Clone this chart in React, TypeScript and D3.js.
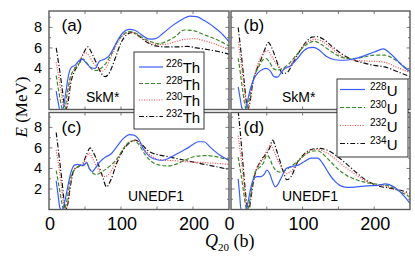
import * as d3 from "d3";
import { useEffect, useRef } from "react";

const W = 415;
const H = 262;

const thIsotopes = ["226", "228", "230", "232"];
const uIsotopes = ["228", "230", "232", "234"];
const xTickValues = [0, 50, 100, 150, 200, 250];
const xTickLabels = [0, 100, 200];
const yTickLabels = [2, 4, 6, 8];

// SkM*, Th  [Q20, E]
const th226Skm = [[10,1.8],[13,0.6],[15,0],[19,0],[23,1.5],[27,3.3],[31,4.1],[36,4.3],[41,4.7],[46,4.9],[52,4.5],[58,4.1],[64,4.0],[70,4.7],[77,4.9],[83,5.2],[89,5.9],[95,6.7],[103,7.5],[111,7.8],[120,7.7],[130,7.2],[140,6.85],[148,6.9],[158,7.4],[170,8.1],[183,8.7],[196,9.1],[205,9.05],[215,8.7],[228,8.1],[240,7.4],[250,6.6]];
const th228Skm = [[10,3.3],[13,2.0],[16,0.8],[19,0],[22,0],[25,1.5],[29,3.0],[35,3.9],[41,4.4],[47,4.9],[53,4.5],[60,3.9],[66,3.8],[72,4.0],[80,4.6],[88,5.6],[95,6.6],[103,7.3],[112,7.6],[120,7.45],[130,7.0],[142,6.6],[152,6.4],[162,6.6],[175,7.1],[188,7.75],[200,7.7],[215,7.3],[230,6.9],[250,6.2]];
const th230Skm = [[10,4.6],[14,3.0],[18,1.2],[21,0],[24,0],[27,1.8],[31,3.3],[37,4.2],[44,5.0],[50,5.55],[56,5.2],[62,4.5],[68,4.0],[74,3.75],[80,4.2],[88,5.4],[96,6.6],[104,7.3],[113,7.55],[122,7.3],[135,6.7],[148,6.35],[160,6.35],[175,6.6],[190,6.85],[203,6.9],[215,6.7],[230,6.4],[250,5.8]];
const th232Skm = [[10,6.0],[14,4.2],[18,2.2],[21,0.6],[23,0],[26,0.5],[30,2.5],[36,3.8],[42,4.5],[48,5.5],[54,6.1],[60,5.4],[66,4.5],[72,3.6],[78,3.2],[84,3.6],[92,5.0],[100,6.5],[108,7.3],[115,7.5],[124,7.2],[135,6.6],[148,6.2],[162,6.1],[178,6.1],[192,6.15],[205,6.0],[220,5.85],[235,5.65],[250,5.4]];

// SkM*, U
const u228Skm = [[10,2.2],[13,1.0],[15,0.2],[17,0],[20,0],[23,0.8],[27,2.0],[32,3.0],[38,3.6],[44,3.9],[49,4.0],[55,3.75],[60,3.2],[65,3.15],[70,3.6],[75,4.0],[83,4.25],[92,4.9],[100,5.6],[108,6.0],[115,6.05],[123,5.8],[133,5.2],[145,4.85],[158,4.8],[170,4.9],[185,5.2],[200,5.6],[213,5.9],[220,5.6],[232,4.8],[242,4.1],[250,3.7]];
const u230Skm = [[10,5.0],[13,3.6],[16,2.0],[19,0.6],[21,0],[24,0.5],[28,2.0],[33,3.3],[39,4.2],[45,4.85],[49,4.95],[54,4.6],[59,4.0],[65,3.85],[72,4.0],[80,4.4],[90,5.2],[100,6.0],[108,6.45],[116,6.65],[125,6.4],[135,5.9],[148,5.3],[160,5.0],[170,4.95],[185,5.1],[200,5.3],[215,5.3],[230,4.8],[250,3.7]];
const u232Skm = [[10,6.6],[14,4.6],[18,2.3],[21,0.5],[23,0],[26,0.6],[30,2.4],[35,3.9],[41,5.0],[47,5.6],[51,5.75],[56,5.3],[62,4.6],[68,4.1],[74,3.95],[82,4.3],[92,5.3],[102,6.2],[110,6.7],[118,6.85],[128,6.6],[140,6.0],[152,5.3],[165,4.9],[180,4.75],[200,4.7],[215,4.6],[232,4.1],[250,3.6]];
const u234Skm = [[10,8.0],[14,5.6],[18,3.0],[21,1.0],[23,0],[26,0.5],[30,2.4],[36,3.9],[42,4.9],[48,6.0],[52,6.55],[57,6.0],[62,5.1],[67,4.1],[73,3.5],[79,3.65],[87,4.6],[96,5.7],[105,6.6],[113,7.05],[120,7.1],[130,6.8],[142,6.1],[155,5.4],[168,4.9],[182,4.6],[200,4.3],[215,4.15],[232,3.7],[250,3.2]];

// UNEDF1, Th
const th226Un = [[10,2.8],[13,1.2],[15,0.2],[17,0],[19,0],[22,0.8],[26,2.2],[30,3.5],[35,4.3],[40,4.4],[45,4.3],[49,4.35],[52,4.6],[56,4.0],[60,3.7],[64,4.0],[70,4.6],[78,5.1],[86,5.4],[94,6.1],[103,6.9],[112,7.3],[118,7.25],[124,6.9],[132,5.8],[140,5.15],[150,4.85],[158,4.8],[168,5.05],[180,5.5],[195,6.1],[208,6.6],[215,6.6],[225,6.0],[237,5.3],[250,4.8]];
const th228Un = [[10,3.8],[14,2.2],[18,0.6],[20,0],[23,0.3],[27,1.8],[31,3.3],[36,3.9],[42,4.2],[48,4.3],[52,4.6],[56,4.0],[60,3.6],[66,3.4],[74,3.7],[84,4.2],[94,4.9],[104,6.0],[112,6.6],[118,6.7],[125,6.3],[133,5.4],[142,4.7],[152,4.35],[165,4.25],[178,4.45],[192,4.9],[205,5.2],[220,5.25],[235,5.1],[250,4.8]];
const th230Un = [[10,5.8],[14,4.0],[18,1.8],[21,0.3],[23,0],[26,0.6],[30,2.5],[35,3.9],[41,4.2],[47,4.4],[52,5.1],[56,5.5],[61,4.9],[67,4.1],[73,3.5],[78,3.2],[84,3.5],[92,4.5],[102,5.8],[112,6.6],[119,6.75],[127,6.3],[137,5.5],[148,5.0],[160,4.8],[175,4.75],[190,4.65],[210,4.6],[230,4.5],[250,4.4]];
const th232Un = [[10,7.5],[14,5.2],[18,2.8],[21,0.8],[23,0],[26,0.5],[30,2.4],[35,3.9],[41,4.2],[47,4.5],[53,5.5],[57,6.0],[62,5.5],[68,4.5],[74,3.3],[80,2.2],[86,2.9],[94,4.5],[104,5.9],[113,6.55],[120,6.75],[128,6.4],[138,5.7],[150,5.35],[162,5.2],[178,4.95],[195,4.7],[212,4.45],[230,4.2],[250,3.9]];

// UNEDF1, U
const u228Un = [[10,3.0],[12,1.5],[14,0],[20,0],[23,0.5],[27,1.9],[31,2.9],[36,3.2],[42,3.2],[47,3.5],[50,3.85],[54,3.5],[58,2.7],[62,2.2],[66,2.5],[71,3.2],[77,4.0],[86,4.2],[95,4.35],[103,4.7],[112,5.0],[121,5.0],[128,4.5],[135,3.7],[143,2.9],[152,2.35],[162,2.15],[175,2.2],[190,2.3],[205,2.35],[216,2.5],[225,2.3],[235,1.8],[243,1.2],[250,0.6]];
const u230Un = [[10,5.1],[14,3.4],[18,1.5],[21,0.2],[23,0],[26,0.8],[30,2.6],[35,3.8],[40,4.1],[45,4.5],[50,5.3],[54,5.0],[58,4.3],[63,3.8],[68,3.65],[75,3.8],[84,4.2],[95,4.8],[105,5.4],[114,5.7],[122,5.7],[130,5.3],[140,4.6],[150,3.9],[162,3.3],[175,2.9],[190,2.6],[205,2.45],[220,2.3],[235,1.8],[250,1.2]];
const u232Un = [[10,7.2],[14,5.0],[18,2.5],[21,0.6],[23,0],[26,0.6],[30,2.5],[35,3.9],[41,4.5],[47,5.3],[52,6.0],[55,6.3],[60,5.7],[66,4.7],[72,3.9],[78,3.5],[85,3.8],[94,4.7],[104,5.4],[114,5.8],[122,5.85],[132,5.6],[145,4.95],[158,4.2],[170,3.6],[185,2.9],[200,2.5],[215,2.3],[232,1.9],[250,1.4]];
const u234Un = [[10,9.6],[13,7.5],[17,4.2],[20,1.8],[23,0.2],[25,0],[28,1.2],[32,3.0],[37,4.1],[43,4.9],[49,5.4],[54,6.0],[58,6.75],[63,5.9],[68,4.8],[73,3.7],[78,2.9],[84,3.2],[92,4.5],[102,5.4],[112,5.85],[122,5.95],[134,5.8],[148,5.2],[162,4.4],[175,3.6],[190,2.8],[205,2.3],[220,2.1],[235,1.9],[250,1.6]];

const colors = ["#3a5cff", "#3d8a2c", "#ff4545", "#111111"];
const dashes = [null, "4,2", "1,1.5", "5,2,1.2,2"];

const panels = [
  { tag: "(a)", model: "SkM*", series: [th226Skm, th228Skm, th230Skm, th232Skm], x0: 49, x1: 229, y0: 11, y1: 109.5, ymax: 9.6, modelX: 86, modelY: 102 },
  { tag: "(b)", model: "SkM*", series: [u228Skm, u230Skm, u232Skm, u234Skm], x0: 231, x1: 410, y0: 11, y1: 109.5, ymax: 9.6, modelX: 282, modelY: 102 },
  { tag: "(c)", model: "UNEDF1", series: [th226Un, th228Un, th230Un, th232Un], x0: 49, x1: 229, y0: 112.5, y1: 209.5, ymax: 9.45, modelX: 128, modelY: 201 },
  { tag: "(d)", model: "UNEDF1", series: [u228Un, u230Un, u232Un, u234Un], x0: 231, x1: 410, y0: 112.5, y1: 209.5, ymax: 9.45, modelX: 282, modelY: 201 },
];

export default function App() {
  const svgRef = useRef<SVGSVGElement>(null);

  useEffect(() => {
    const svg = d3.select(svgRef.current);
    svg.selectAll("*").remove();
    const sans = "Liberation Sans, Arial, sans-serif";
    const serif = "Liberation Serif, Times New Roman, serif";
    const frameColor = "#5a5a5a";

    panels.forEach((p, pi) => {
      const x = d3.scaleLinear().domain([0, 250]).range([p.x0, p.x1]);
      const y = d3.scaleLinear().domain([0, p.ymax]).range([p.y1, p.y0]);
      const g = svg.append("g");

      const clipId = `clip-${pi}`;
      svg.append("clipPath").attr("id", clipId)
        .append("rect")
        .attr("x", p.x0).attr("y", p.y0)
        .attr("width", p.x1 - p.x0).attr("height", p.y1 - p.y0);

      const line = d3.line<number[]>()
        .x(d => x(d[0]))
        .y(d => y(d[1]))
        .curve(d3.curveMonotoneX);

      const lines = g.append("g").attr("clip-path", `url(#${clipId})`);
      // draw in reverse so the solid line sits on top
      [3, 2, 1, 0].forEach(i => {
        lines.append("path")
          .attr("d", line(p.series[i]))
          .attr("fill", "none")
          .attr("stroke", colors[i])
          .attr("stroke-width", 1.2)
          .attr("stroke-dasharray", dashes[i]);
      });

      // ticks (inward, all four sides)
      xTickValues.forEach(v => {
        if (v === 0 || v === 250) return;
        g.append("line").attr("x1", x(v)).attr("x2", x(v)).attr("y1", p.y1).attr("y2", p.y1 - 3)
          .attr("stroke", frameColor).attr("stroke-width", 0.8);
        g.append("line").attr("x1", x(v)).attr("x2", x(v)).attr("y1", p.y0).attr("y2", p.y0 + 3)
          .attr("stroke", frameColor).attr("stroke-width", 0.8);
      });
      d3.range(1, Math.floor(p.ymax) + 1).forEach(v => {
        const len = v % 2 === 0 ? 3.5 : 2;
        g.append("line").attr("x1", p.x0).attr("x2", p.x0 + len).attr("y1", y(v)).attr("y2", y(v))
          .attr("stroke", frameColor).attr("stroke-width", 0.8);
        g.append("line").attr("x1", p.x1).attr("x2", p.x1 - len).attr("y1", y(v)).attr("y2", y(v))
          .attr("stroke", frameColor).attr("stroke-width", 0.8);
      });

      g.append("rect")
        .attr("x", p.x0).attr("y", p.y0)
        .attr("width", p.x1 - p.x0).attr("height", p.y1 - p.y0)
        .attr("fill", "none").attr("stroke", frameColor).attr("stroke-width", 1.4);

      if (pi % 2 === 0) {
        yTickLabels.forEach(v => {
          g.append("text").attr("x", 42).attr("y", y(v) + 5)
            .attr("text-anchor", "end")
            .style("font-family", sans).style("font-size", "14.5px")
            .text(v);
        });
      }
      if (pi >= 2) {
        xTickLabels.forEach(v => {
          g.append("text").attr("x", x(v) + (pi === 3 && v === 0 ? -1.5 : 1)).attr("y", 230)
            .attr("text-anchor", "middle")
            .style("font-family", sans).style("font-size", "18px")
            .text(v);
        });
      }

      g.append("text").attr("x", p.x0 + 12.5).attr("y", p.y0 + 20)
        .style("font-family", sans).style("font-size", "17px")
        .text(p.tag);
      g.append("text").attr("x", p.modelX).attr("y", p.modelY)
        .style("font-family", sans).style("font-size", "14px")
        .text(p.model);
    });

    // legends
    const drawLegend = (names: string[], el: string, bx: number, by: number, bw: number, bh: number,
                        rows: number[], lx0: number, lx1: number, tx: number) => {
      const lg = svg.append("g");
      lg.append("rect").attr("x", bx).attr("y", by).attr("width", bw).attr("height", bh)
        .attr("fill", "white").attr("stroke", "#222").attr("stroke-width", 0.9);
      names.forEach((n, i) => {
        lg.append("line").attr("x1", lx0).attr("x2", lx1).attr("y1", rows[i]).attr("y2", rows[i])
          .attr("stroke", colors[i]).attr("stroke-width", 1.2).attr("stroke-dasharray", dashes[i]);
        const t = lg.append("text").attr("x", tx).attr("y", rows[i] + 6)
          .style("font-family", sans);
        t.append("tspan").attr("dy", -6).style("font-size", "10px").text(n);
        t.append("tspan").attr("dy", 6).style("font-size", "15px").text(el);
      });
    };
    drawLegend(thIsotopes, "Th", 134, 52, 70, 77, [67, 83.5, 100, 116.5], 139, 163, 166);
    drawLegend(uIsotopes, "U", 337, 79, 71, 78, [89.5, 107.5, 125.5, 143.5], 340, 365, 370);

    // axis titles
    const yt = svg.append("text")
      .attr("transform", "translate(27,107) rotate(-90)")
      .attr("text-anchor", "middle")
      .style("font-family", serif).style("font-size", "17px");
    yt.append("tspan").style("font-style", "italic").text("E");
    yt.append("tspan").text(" (MeV)");

    const xt = svg.append("text").attr("x", 205).attr("y", 247)
      .style("font-family", serif).style("font-size", "18px");
    xt.append("tspan").style("font-style", "italic").text("Q");
    xt.append("tspan").attr("dy", 4).style("font-size", "11px").text("20");
    xt.append("tspan").attr("dy", -4).text(" (b)");
  }, []);

  return (
    <svg ref={svgRef} width={W} height={H}
      style={{ position: "absolute", left: 0, top: 0, background: "white" }} />
  );
}
